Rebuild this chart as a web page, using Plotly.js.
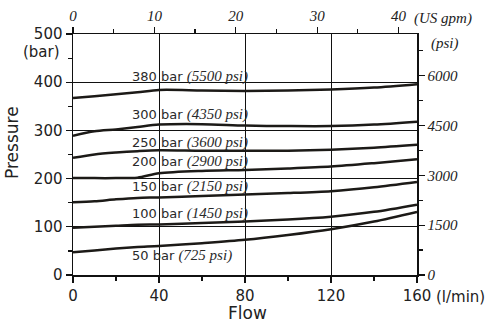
<!DOCTYPE html>
<html><head><meta charset="utf-8">
<script src="https://cdn.plot.ly/plotly-3.0.1.min.js"></script>
<style>html,body{margin:0;padding:0;background:#fff}#c{width:492px;height:329px}</style>
</head><body><div id="c"></div>
<script>
const flow = [0, 10, 20, 30, 40, 60, 80, 100, 120, 140, 160];
const p380 = [367, 371, 375, 379, 384, 383, 382, 383, 385, 389, 396];
const p300 = [289, 298, 302, 307, 312, 313, 310, 309, 309, 312, 318];
const p250 = [243, 250, 254, 257, 259, 258, 258, 258, 260, 264, 270];
const p200 = [201, 201, 201, 202, 211, 216, 218, 221, 225, 232, 240];
const p150 = [151, 153, 157, 160, 161, 164, 167, 170, 174, 182, 193];
const p100 = [98, 100, 102, 104, 105, 108, 111, 115, 121, 131, 146];
const p50  = [47, 51, 55, 58, 60, 66, 73, 83, 95, 111, 131];
const series = [p380, p300, p250, p200, p150, p100, p50];
const barLabels = ["380 bar", "300 bar", "250 bar", "200 bar", "150 bar", "100 bar", "50 bar"];
const psiLabels = ["(5500 psi)", "(4350 psi)", "(3600 psi)", "(2900 psi)", "(2150 psi)", "(1450 psi)", "(725 psi)"];
const labelY = [411, 334, 275, 236, 183, 128, 41];
const labelX = 26.5;
const flowTicks = [0, 40, 80, 120, 160];
const flowMinor = [20, 60, 100, 140];
const barTicks = [0, 100, 200, 300, 400, 500];
const barMinor = [50, 150, 250, 350, 450];
const gpmTicks = [0, 10, 20, 30, 40];
const gpmMinor = [5, 15, 25, 35];
const psiTicks = [0, 1500, 3000, 4500, 6000];
const psiMinor = [750, 2250, 3750, 5250, 6750];
const LPM_PER_GPM = 3.78541, PSI_PER_BAR = 14.5038;
const xMax = 160, yMax = 500;

const sans = "DejaVu Sans, Verdana, sans-serif";
const serif = "Liberation Serif, Times New Roman, serif";
const ink = '#1c1a17';
const traces = series.map(s => ({
  x: flow, y: s, type: 'scatter', mode: 'lines',
  line: {color: ink, width: 2.5, shape: 'spline', smoothing: 0.8},
  hoverinfo: 'skip', showlegend: false
}));
// same lowest curve expressed in US gpm / psi on the secondary axes (drawn exactly on top)
traces.push({
  x: flow.map(f => f / LPM_PER_GPM), y: p50.map(v => v * PSI_PER_BAR),
  xaxis: 'x2', yaxis: 'y2', type: 'scatter', mode: 'lines',
  line: {color: 'rgba(0,0,0,0)', width: 1}, hoverinfo: 'skip', showlegend: false
});

const ann = barLabels.map((b, i) => ({
  x: labelX, y: labelY[i], xref: 'x', yref: 'y', xanchor: 'left', yanchor: 'middle',
  showarrow: false,
  text: b + ' <span style="font-family:' + serif + ';font-style:italic;font-size:15px">' + psiLabels[i] + '</span>',
  font: {family: sans, size: 13, color: '#2a2a2a'}
}));
const P = (x, y) => ({x: x / 344, y: (275 - y) / 241});
function paperAnn(px, py, text, font, xanchor, angle) {
  const p = P(px - 73, py);
  return {xref: 'paper', yref: 'paper', x: p.x, y: p.y, xanchor: xanchor || 'center', yanchor: 'middle',
    showarrow: false, text: text, font: font, textangle: angle || 0};
}
ann.push(paperAnn(62, 52, '(bar)', {family: sans, size: 15, color: '#222'}, 'right'));
ann.push(paperAnn(434, 297, '(l/min)', {family: sans, size: 15, color: '#222'}, 'left'));
ann.push(paperAnn(412, 18, '<i>(US gpm)</i>', {family: serif, size: 15, color: '#222'}, 'left'));
ann.push(paperAnn(429, 44, '<i>(psi)</i>', {family: serif, size: 15, color: '#222'}, 'left'));
ann.push(paperAnn(12, 143, 'Pressure', {family: sans, size: 17, color: '#222'}, 'center', -90));
ann.push(paperAnn(247, 313, 'Flow', {family: sans, size: 17, color: '#222'}, 'center'));

const axBase = {ticks: 'outside', ticklen: 6, tickwidth: 1.2, tickcolor: '#111',
  showline: true, linecolor: '#111', linewidth: 1.5, zeroline: false};
const layout = {
  width: 492, height: 329,
  margin: {l: 73, r: 75, t: 34, b: 54},
  paper_bgcolor: '#fff', plot_bgcolor: '#fff',
  showlegend: false,
  xaxis: Object.assign({}, axBase, {
    range: [0, xMax], tickvals: flowTicks,
    minor: {tickvals: flowMinor, ticks: 'outside', ticklen: 4, tickcolor: '#111', showgrid: false},
    showgrid: true, gridcolor: '#111', gridwidth: 1,
    tickfont: {family: sans, size: 15, color: '#222'}
  }),
  yaxis: Object.assign({}, axBase, {
    range: [0, yMax], tickvals: barTicks,
    minor: {tickvals: barMinor, ticks: 'outside', ticklen: 4, tickcolor: '#111', showgrid: false},
    showgrid: true, gridcolor: '#111', gridwidth: 1,
    tickfont: {family: sans, size: 15, color: '#222'}
  }),
  xaxis2: Object.assign({}, axBase, {
    overlaying: 'x', side: 'top', anchor: 'y', range: [0, xMax / LPM_PER_GPM],
    tickvals: gpmTicks,
    minor: {tickvals: gpmMinor, ticks: 'outside', ticklen: 4, tickcolor: '#111', showgrid: false},
    showgrid: false,
    tickfont: {family: serif, size: 15, color: '#222', style: 'italic'}
  }),
  yaxis2: Object.assign({}, axBase, {
    overlaying: 'y', side: 'right', anchor: 'x', range: [0, yMax * PSI_PER_BAR],
    tickvals: psiTicks,
    minor: {tickvals: psiMinor, ticks: 'outside', ticklen: 4, tickcolor: '#111', showgrid: false},
    showgrid: false,
    tickfont: {family: serif, size: 15, color: '#222', style: 'italic'}
  }),
  annotations: ann
};
Plotly.newPlot('c', traces, layout, {staticPlot: true});
</script></body></html>
